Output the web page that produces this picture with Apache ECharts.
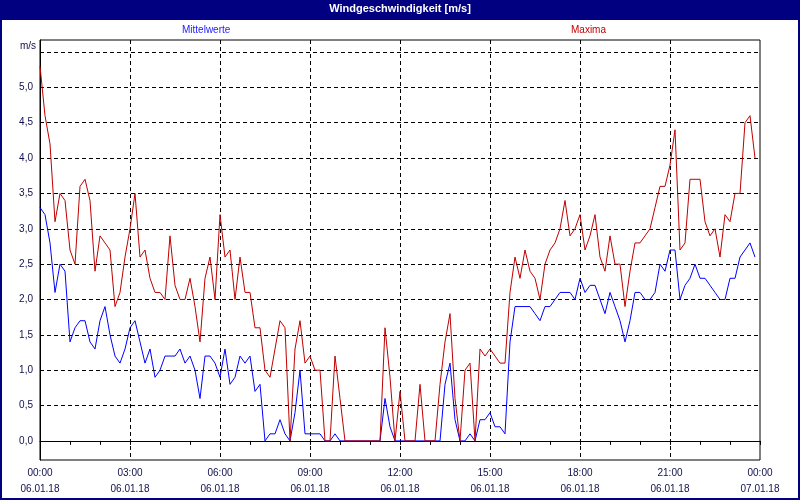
<!DOCTYPE html>
<html>
<head>
<meta charset="utf-8">
<script src="https://cdn.jsdelivr.net/npm/echarts@6/dist/echarts.min.js"></script>
<style>html,body{margin:0;padding:0;background:#fff;}#c{width:800px;height:500px;}</style>
</head>
<body>
<div id="c"></div>
<script>
// 10-minute values, 00:00 .. 23:50 on 06.01.18
const mittelwerte = [
3.3,3.2,2.8,2.1,2.5,2.4,1.4,1.6,1.7,1.7,1.4,1.3,1.7,1.9,1.5,1.2,1.1,1.3,1.6,1.7,1.4,1.1,1.3,0.9,
1.0,1.2,1.2,1.2,1.3,1.1,1.2,1.0,0.6,1.2,1.2,1.1,0.9,1.3,0.8,0.9,1.2,1.1,1.2,0.7,0.8,0.0,0.1,0.1,
0.3,0.1,0.0,0.4,1.0,0.1,0.1,0.1,0.1,0.0,0.0,0.1,0.0,0.0,0.0,0.0,0.0,0.0,0.0,0.0,0.0,0.6,0.2,0.0,
0.0,0.0,0.0,0.0,0.0,0.0,0.0,0.0,0.0,0.8,1.1,0.3,0.0,0.0,0.1,0.0,0.3,0.3,0.4,0.2,0.2,0.1,1.4,1.9,
1.9,1.9,1.9,1.8,1.7,1.9,1.9,2.0,2.1,2.1,2.1,2.0,2.3,2.1,2.2,2.2,2.0,1.8,2.1,1.9,1.7,1.4,1.7,2.1,
2.1,2.0,2.0,2.1,2.5,2.4,2.7,2.7,2.0,2.2,2.3,2.5,2.3,2.3,2.2,2.1,2.0,2.0,2.3,2.3,2.6,2.7,2.8,2.6
];
const maxima = [
5.3,4.6,4.2,3.1,3.5,3.4,2.7,2.5,3.6,3.7,3.4,2.4,2.9,2.8,2.7,1.9,2.1,2.6,3.0,3.5,2.6,2.7,2.3,2.1,
2.1,2.0,2.9,2.2,2.0,2.0,2.3,1.9,1.4,2.3,2.6,2.0,3.2,2.6,2.7,2.0,2.6,2.1,2.1,1.6,1.6,1.0,0.9,1.3,
1.7,1.6,0.0,1.3,1.7,1.1,1.2,1.0,1.0,0.0,0.0,1.2,0.6,0.0,0.0,0.0,0.0,0.0,0.0,0.0,0.0,1.6,0.9,0.0,
0.7,0.0,0.0,0.0,0.8,0.0,0.0,0.0,0.8,1.4,1.8,0.6,0.0,1.0,1.1,0.0,1.3,1.2,1.3,1.2,1.1,1.1,2.1,2.6,
2.3,2.7,2.4,2.3,2.0,2.5,2.7,2.8,3.0,3.4,2.9,3.0,3.2,2.7,2.9,3.2,2.6,2.4,2.9,2.5,2.5,1.9,2.4,2.8,
2.8,2.9,3.0,3.3,3.6,3.6,3.9,4.4,2.7,2.8,3.7,3.7,3.7,3.1,2.9,3.0,2.6,3.2,3.1,3.5,3.5,4.5,4.6,4.0
];
const tickTimes = ['00:00','03:00','06:00','09:00','12:00','15:00','18:00','21:00','00:00'];
const tickDates = ['06.01.18','06.01.18','06.01.18','06.01.18','06.01.18','06.01.18','06.01.18','06.01.18','07.01.18'];
const yTicks = [0,0.5,1,1.5,2,2.5,3,3.5,4,4.5,5,5.5];
const yLabels = [0,0.5,1,1.5,2,2.5,3,3.5,4,4.5,5];

// category slots every 10 minutes, 00:00 .. 24:00
const categories = [];
for (let m = 0; m <= 1440; m += 10) {
  const h = Math.floor(m / 60) % 24, mm = m % 60;
  categories.push((h < 10 ? '0' : '') + h + ':' + (mm < 10 ? '0' : '') + mm);
}

const FONT = 'Liberation Sans';
const TXT = '#10104a';
const chart = echarts.init(document.getElementById('c'), null, {renderer: 'canvas'});
chart.setOption({
  animation: false,
  backgroundColor: '#ffffff',
  title: {
    text: 'Windgeschwindigkeit [m/s]',
    left: 'center', top: 3, padding: 0,
    textStyle: {color: '#ffffff', fontFamily: FONT, fontSize: 11, fontWeight: 'bold'}
  },
  graphic: [
    {type: 'rect', z: -10, silent: true, shape: {x: 0, y: 0, width: 800, height: 20}, style: {fill: '#000080'}},
    {type: 'rect', z: 100, silent: true, shape: {x: 1, y: 1, width: 798, height: 498}, style: {fill: null, stroke: '#000080', lineWidth: 2}}
  ],
  legend: [
    {data: [{name: 'Mittelwerte', textStyle: {color: '#2020ff'}}], left: 177, top: 25, icon: 'none', itemWidth: 0, itemHeight: 0, padding: 0,
     textStyle: {fontFamily: FONT, fontSize: 10}},
    {data: [{name: 'Maxima', textStyle: {color: '#c00000'}}], left: 566, top: 25, icon: 'none', itemWidth: 0, itemHeight: 0, padding: 0,
     textStyle: {fontFamily: FONT, fontSize: 10}}
  ],
  grid: {left: 40, right: 40, top: 40, bottom: 40, show: true, borderColor: '#000', borderWidth: 1, backgroundColor: '#fff'},
  xAxis: {
    type: 'category', data: categories, boundaryGap: false,
    axisLine: {lineStyle: {color: '#000', width: 1}},
    axisTick: {show: true, length: 4, interval: (i) => i % 6 === 0, lineStyle: {color: '#000'}},
    axisLabel: {
      interval: (i) => i % 18 === 0, margin: 5, lineHeight: 16,
      color: TXT, fontFamily: FONT, fontSize: 10,
      formatter: (v, i) => { const k = i / 18; return tickTimes[k] + '\n' + tickDates[k]; }
    },
    splitLine: {show: true, interval: (i) => i % 18 === 0 && i > 0 && i < 144, lineStyle: {color: '#000', type: [4, 3], width: 1}}
  },
  yAxis: {
    type: 'value', min: -0.27, max: 5.67,
    name: 'm/s', nameLocation: 'end', nameGap: -6,
    nameTextStyle: {color: TXT, fontFamily: FONT, fontSize: 10, align: 'right', verticalAlign: 'middle', padding: [0, 4, 0, 0]},
    axisLine: {show: true, lineStyle: {color: '#000'}},
    axisTick: {show: true, inside: true, length: 3, customValues: yTicks, lineStyle: {color: '#000'}},
    axisLabel: {customValues: yLabels, margin: 7, color: TXT, fontFamily: FONT, fontSize: 10,
      formatter: (v) => v.toFixed(1).replace('.', ',')},
    splitLine: {show: true, lineStyle: {color: '#000', type: [4, 3], width: 1}}
  },
  series: [
    {name: 'Mittelwerte', type: 'line', data: mittelwerte, showSymbol: false, symbol: 'none',
     lineStyle: {color: '#0000ff', width: 1}, itemStyle: {color: '#0000ff'}},
    {name: 'Maxima', type: 'line', data: maxima, showSymbol: false, symbol: 'none',
     lineStyle: {color: '#c00000', width: 1}, itemStyle: {color: '#c00000'}}
  ]
});
</script>
</body>
</html>
